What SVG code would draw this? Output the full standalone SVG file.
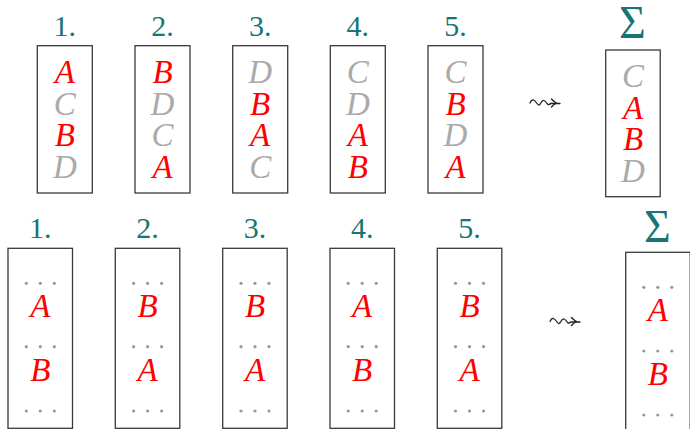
<svg xmlns="http://www.w3.org/2000/svg" width="690" height="429" viewBox="0 0 690 429" font-family="Liberation Serif, DejaVu Serif, serif">
<style>
.box{fill:#fff;stroke:#3a3a3a;stroke-width:1.3}
.lbl{font-size:30px;fill:#177575;text-anchor:middle}
.sig{font-size:46px;fill:#177575;text-anchor:middle}
.v{font-style:italic;font-size:33px;text-anchor:middle}
.r{fill:#ff0000}
.g{fill:#aaaaaa}
.dot{fill:#999999}
.sq{fill:none;stroke:#222;stroke-width:1.3;stroke-linejoin:round;stroke-linecap:round}
</style>
<defs>
<g id="dots"><circle cx="-14" cy="0" r="1.6" class="dot"/><circle cx="0" cy="0" r="1.6" class="dot"/><circle cx="14" cy="0" r="1.6" class="dot"/></g>
<g id="squig"><path class="sq" d="M0,0.5 q1.5,-3.5 3.5,-3 q1.5,0.5 3.5,3.5 q2,3 3.5,0 q2,-3.5 3.5,-3 q1.5,0.5 3.5,3.5 q1.5,1.5 3,-0.5 h9.5"/><path class="sq" d="M21.5,-3.5 q2,2.5 5,4 q-3,1.5 -5,4"/></g>
</defs>

<!-- top row -->
<g id="t1"><text class="lbl" x="64.8" y="35.5">1.</text><rect class="box" x="37.3" y="45.7" width="55" height="147.3"/>
<text class="v r" x="64.8" y="83">A</text><text class="v g" x="64.8" y="114.5">C</text><text class="v r" x="64.8" y="146">B</text><text class="v g" x="64.8" y="177.5">D</text></g>
<g id="t2"><text class="lbl" x="162.5" y="35.5">2.</text><rect class="box" x="135" y="45.7" width="55" height="147.3"/>
<text class="v r" x="162.5" y="83">B</text><text class="v g" x="162.5" y="114.5">D</text><text class="v g" x="162.5" y="146">C</text><text class="v r" x="162.5" y="177.5">A</text></g>
<g id="t3"><text class="lbl" x="260.2" y="35.5">3.</text><rect class="box" x="232.7" y="45.7" width="55" height="147.3"/>
<text class="v g" x="260.2" y="83">D</text><text class="v r" x="260.2" y="114.5">B</text><text class="v r" x="260.2" y="146">A</text><text class="v g" x="260.2" y="177.5">C</text></g>
<g id="t4"><text class="lbl" x="357.8" y="35.5">4.</text><rect class="box" x="330.3" y="45.7" width="55" height="147.3"/>
<text class="v g" x="357.8" y="83">C</text><text class="v g" x="357.8" y="114.5">D</text><text class="v r" x="357.8" y="146">A</text><text class="v r" x="357.8" y="177.5">B</text></g>
<g id="t5"><text class="lbl" x="455.5" y="35.5">5.</text><rect class="box" x="428" y="45.7" width="55" height="147.3"/>
<text class="v g" x="455.5" y="83">C</text><text class="v r" x="455.5" y="114.5">B</text><text class="v g" x="455.5" y="146">D</text><text class="v r" x="455.5" y="177.5">A</text></g>
<g id="tsum"><text class="sig" x="632.5" y="37.5">Σ</text><rect class="box" x="605.7" y="50" width="54.5" height="146.7"/>
<text class="v g" x="633" y="87">C</text><text class="v r" x="633" y="118.5">A</text><text class="v r" x="633" y="150">B</text><text class="v g" x="633" y="181.5">D</text></g>

<!-- bottom row -->
<g id="b1"><text class="lbl" x="40.3" y="238.3">1.</text><rect class="box" x="8" y="248.3" width="64.5" height="180"/>
<use href="#dots" x="40.3" y="283.3"/><text class="v r" x="40.3" y="317.3">A</text><use href="#dots" x="40.3" y="346.7"/><text class="v r" x="40.3" y="381">B</text><use href="#dots" x="40.3" y="411"/></g>
<g id="b2"><text class="lbl" x="147.6" y="238.3">2.</text><rect class="box" x="115.3" y="248.3" width="64.5" height="180"/>
<use href="#dots" x="147.6" y="283.3"/><text class="v r" x="147.6" y="317.3">B</text><use href="#dots" x="147.6" y="346.7"/><text class="v r" x="147.6" y="381">A</text><use href="#dots" x="147.6" y="411"/></g>
<g id="b3"><text class="lbl" x="255" y="238.3">3.</text><rect class="box" x="222.7" y="248.3" width="64.5" height="180"/>
<use href="#dots" x="255" y="283.3"/><text class="v r" x="255" y="317.3">B</text><use href="#dots" x="255" y="346.7"/><text class="v r" x="255" y="381">A</text><use href="#dots" x="255" y="411"/></g>
<g id="b4"><text class="lbl" x="362.2" y="238.3">4.</text><rect class="box" x="330" y="248.3" width="64.5" height="180"/>
<use href="#dots" x="362.2" y="283.3"/><text class="v r" x="362.2" y="317.3">A</text><use href="#dots" x="362.2" y="346.7"/><text class="v r" x="362.2" y="381">B</text><use href="#dots" x="362.2" y="411"/></g>
<g id="b5"><text class="lbl" x="469.5" y="238.3">5.</text><rect class="box" x="437.3" y="248.3" width="64.5" height="180"/>
<use href="#dots" x="469.5" y="283.3"/><text class="v r" x="469.5" y="317.3">B</text><use href="#dots" x="469.5" y="346.7"/><text class="v r" x="469.5" y="381">A</text><use href="#dots" x="469.5" y="411"/></g>
<g id="bsum"><text class="sig" x="657.5" y="241.5">Σ</text><rect class="box" x="625.7" y="252.3" width="64.5" height="180"/>
<use href="#dots" x="657.8" y="287.3"/><text class="v r" x="657.8" y="320.7">A</text><use href="#dots" x="657.8" y="351"/><text class="v r" x="657.8" y="385">B</text><use href="#dots" x="657.8" y="415"/></g>

<g id="connectors">
<use href="#squig" x="530" y="102.5"/>
<use href="#squig" x="550" y="321"/>
</g>
</svg>
